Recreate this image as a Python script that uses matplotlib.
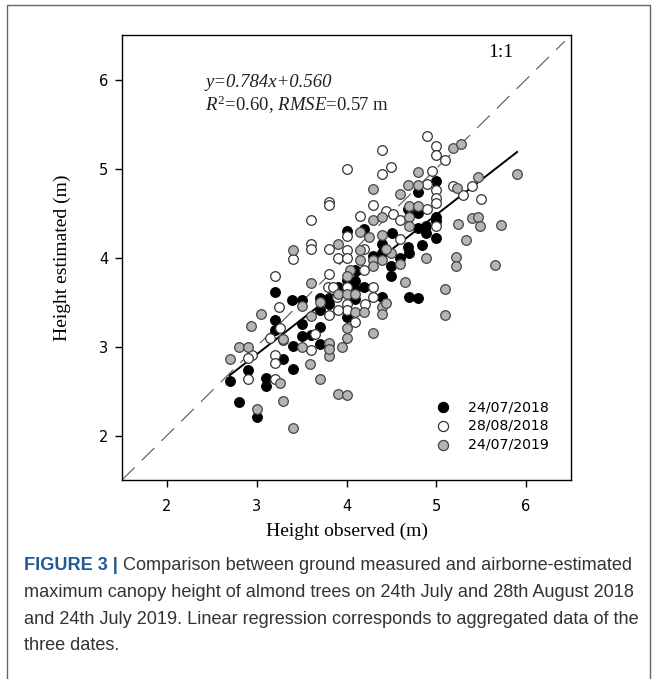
import matplotlib
matplotlib.use('Agg')
import matplotlib.pyplot as plt
from matplotlib.patches import Rectangle

plt.rcParams['mathtext.fontset'] = 'custom'
plt.rcParams['mathtext.rm'] = 'Liberation Serif'
plt.rcParams['mathtext.it'] = 'Liberation Serif:italic'

# 24/07/2018 (black)
x_jul18 = [5.0, 4.80, 4.69, 4.80, 5.0, 5.0, 4.80, 4.89, 4.89, 5.0, 4.84, 4.69, 4.70, 4.60, 4.50, 4.50,
           4.40, 4.40, 4.30, 4.51, 4.20, 4.0, 4.10, 4.20, 4.10, 4.0, 3.90, 3.80, 3.80, 3.70, 4.0, 4.10,
           4.40, 4.70, 4.80, 4.10, 3.20, 3.39, 3.50, 3.20, 3.50, 3.70, 3.50, 3.60, 3.70, 3.40, 3.20, 3.70,
           2.90, 2.70, 3.10, 3.10, 3.29, 3.40, 2.80, 3.0]
y_jul18 = [4.86, 4.74, 4.55, 4.50, 4.46, 4.41, 4.33, 4.35, 4.27, 4.22, 4.14, 4.12, 4.05, 4.0, 3.91, 3.79,
           4.15, 4.05, 4.02, 4.27, 4.32, 4.30, 3.74, 3.67, 3.65, 3.75, 3.67, 3.54, 3.48, 3.54, 3.33, 3.53,
           3.56, 3.56, 3.55, 3.86, 3.61, 3.52, 3.52, 3.30, 3.25, 3.22, 3.12, 3.13, 3.03, 3.01, 3.19, 3.41,
           2.74, 2.61, 2.65, 2.56, 2.86, 2.75, 2.38, 2.21]

# 28/08/2018 (white)
x_aug18 = [4.90, 5.0, 5.0, 5.10, 4.40, 4.40, 4.50, 4.0, 4.95, 4.90, 5.0, 5.0, 5.0, 4.90, 5.19, 5.40,
           5.30, 5.50, 3.80, 3.80, 3.60, 3.60, 3.60, 3.40, 3.80, 3.90, 4.0, 4.0, 4.15, 4.29, 4.44, 4.52,
           4.60, 4.60, 3.80, 3.79, 3.85, 3.20, 3.25, 3.26, 3.15, 4.0, 4.30, 4.30, 4.20, 4.20, 4.0, 4.0,
           4.0, 4.10, 4.21, 3.90, 3.80, 3.89, 5.0, 2.95, 2.90, 2.90, 3.20, 3.20, 3.20, 3.80, 3.60, 3.65,
           3.29]
y_aug18 = [5.37, 5.25, 5.15, 5.10, 5.21, 4.94, 5.02, 5.0, 4.97, 4.83, 4.76, 4.67, 4.61, 4.55, 4.80, 4.80,
           4.70, 4.66, 4.62, 4.59, 4.42, 4.15, 4.10, 3.98, 4.09, 4.0, 4.08, 4.0, 4.47, 4.59, 4.52, 4.49,
           4.42, 4.21, 3.81, 3.67, 3.67, 3.79, 3.44, 3.21, 3.10, 4.24, 3.67, 3.56, 3.86, 4.09, 3.67, 3.48,
           3.41, 3.28, 3.48, 3.41, 3.35, 3.56, 4.35, 2.91, 2.87, 2.64, 2.91, 2.82, 2.63, 3.03, 2.96, 3.14,
           3.07]

# 24/07/2019 (grey)
x_jul19 = [5.19, 5.27, 5.90, 4.80, 4.69, 4.60, 4.80, 4.70, 4.80, 4.30, 5.46, 5.23, 5.24, 5.40, 5.46, 5.49,
           5.72, 5.33, 5.22, 5.22, 5.65, 5.10, 5.10, 4.65, 4.30, 4.89, 4.60, 4.50, 4.44, 4.40, 4.30, 4.40,
           4.70, 4.70, 4.15, 4.25, 4.15, 4.15, 4.30, 4.30, 4.40, 4.04, 4.0, 3.90, 3.40, 3.60, 3.90, 4.0,
           4.10, 3.70, 3.50, 3.60, 4.10, 4.20, 4.40, 4.44, 4.40, 4.0, 4.0, 3.05, 2.94, 2.80, 2.90, 3.80,
           3.50, 3.29, 2.70, 3.59, 3.70, 3.90, 4.0, 3.80, 3.80, 3.95, 3.26, 3.29, 3.0, 3.40]
y_jul19 = [5.23, 5.27, 4.94, 4.96, 4.81, 4.71, 4.82, 4.58, 4.58, 4.77, 4.90, 4.78, 4.38, 4.44, 4.45, 4.35,
           4.36, 4.20, 4.01, 3.90, 3.92, 3.65, 3.35, 3.72, 3.15, 3.99, 3.93, 4.05, 4.10, 4.25, 4.42, 4.46,
           4.46, 4.35, 4.29, 4.23, 4.08, 3.97, 3.97, 3.91, 3.97, 3.86, 3.79, 4.15, 4.08, 3.71, 3.59, 3.59,
           3.59, 3.50, 3.46, 3.34, 3.39, 3.39, 3.44, 3.49, 3.36, 3.21, 3.09, 3.36, 3.23, 3.0, 3.0, 3.04,
           3.0, 3.08, 2.86, 2.80, 2.63, 2.47, 2.45, 2.89, 2.97, 2.99, 2.59, 2.39, 2.30, 2.08]

# regression fit and its x range
slope, intercept = 0.784, 0.560
fit_x = [2.7, 5.9]

fig = plt.figure(figsize=(6.57, 6.79), dpi=100)

# frame around figure + caption
fig.patches.append(Rectangle((7 / 657, -0.05), 643 / 657, 1 - 5 / 679 + 0.05,
                             transform=fig.transFigure, fill=False, lw=1.0, ec='#666666'))

ax = fig.add_axes([122 / 657, 1 - 480 / 679, 449 / 657, 445 / 679])
ax.set_xlim(1.5, 6.5)
ax.set_ylim(1.5, 6.5)

# 1:1 line
ax.plot([1.5, 6.43], [1.5, 6.43], color='#555555', lw=0.8, dashes=(16, 9))
# regression line
ax.plot(fit_x, [slope * v + intercept for v in fit_x], color='black', lw=1.4)

mk = dict(s=48, linewidths=0.9, zorder=3)
ax.scatter(x_jul18, y_jul18, c='black', edgecolors='black', label='24/07/2018', **mk)
ax.scatter(x_aug18, y_aug18, c='white', edgecolors='#333333', label='28/08/2018', **mk)
ax.scatter(x_jul19, y_jul19, c='#b4b4b4', edgecolors='#444444', label='24/07/2019', **mk)

ax.set_xticks([2, 3, 4, 5, 6])
ax.set_yticks([2, 3, 4, 5, 6])
ax.tick_params(direction='out', length=5, width=1, labelsize=10.5)
ax.tick_params(axis='x', pad=9)
ax.tick_params(axis='y', pad=5)
for s in ax.spines.values():
    s.set_linewidth(1.0)

serif = 'Liberation Serif'
ax.set_xlabel('Height observed (m)', fontfamily=serif, fontsize=14, labelpad=6)
ax.set_ylabel('Height estimated (m)', fontfamily=serif, fontsize=14, labelpad=20)

ax.text(0.185, 0.893, 'y=0.784x+0.560', transform=ax.transAxes, fontfamily=serif,
        fontsize=13.5, fontstyle='italic', va='center', color='#222222')
ax.text(0.185, 0.843, r'$R^{2}$=0.60, $RMSE$=0.57 m', transform=ax.transAxes, fontfamily=serif,
        fontsize=13.5, va='center', color='#222222')
ax.text(0.815, 0.96, '1:1', transform=ax.transAxes, fontfamily=serif, fontsize=14, va='center')

leg = ax.legend(loc='lower right', bbox_to_anchor=(0.973, 0.042), frameon=False,
                fontsize=10.2, handletextpad=0.8, labelspacing=0.33, borderpad=0.2,
                scatterpoints=1, markerscale=1.05)

# caption
cap_color = '#333333'
fs = 13.1
y0 = 1 - 566 / 679
dy = 26.6 / 679
x0 = 24 / 657
t = fig.text(x0, y0, 'FIGURE 3 | ', fontsize=fs, fontweight='bold', color='#1d5a96',
             family='Liberation Sans', va='center')
r = fig.canvas.get_renderer()
bb = t.get_window_extent(renderer=r)
fig.text(bb.x1 / 657, y0, 'Comparison between ground measured and airborne-estimated',
         fontsize=fs, color=cap_color, family='Liberation Sans', va='center')
lines = ['maximum canopy height of almond trees on 24th July and 28th August 2018',
         'and 24th July 2019. Linear regression corresponds to aggregated data of the',
         'three dates.']
for i, ln in enumerate(lines):
    fig.text(x0, y0 - (i + 1) * dy, ln, fontsize=fs, color=cap_color,
             family='Liberation Sans', va='center')

fig.savefig('out.png', dpi=100)
